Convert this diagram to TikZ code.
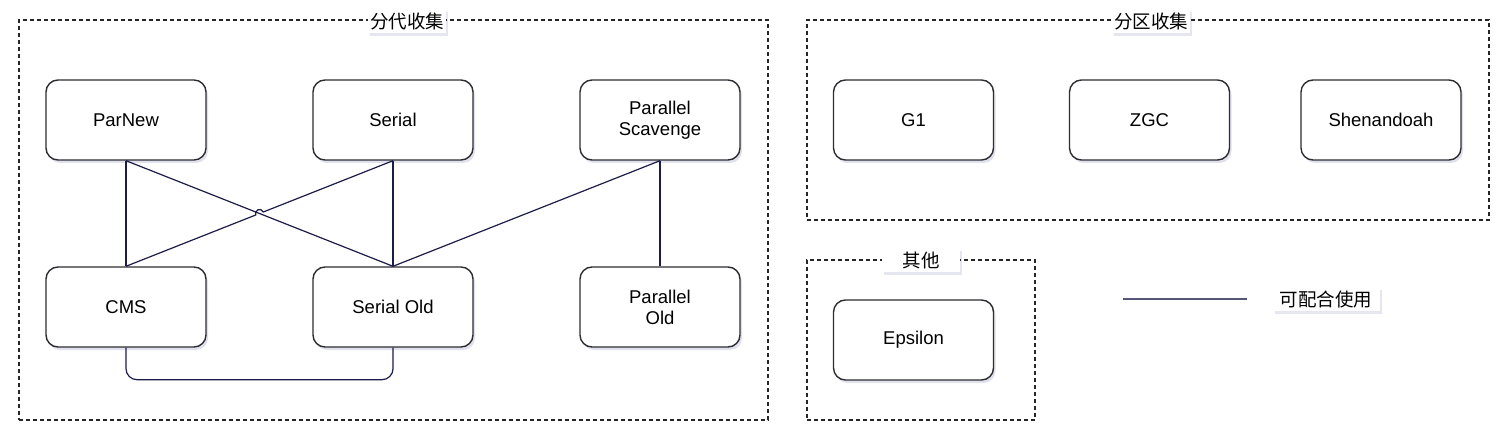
\documentclass[tikz,border=0pt]{standalone}
\usepackage{fontspec}
\setmainfont{Liberation Sans}
\newfontfamily\cjk{Noto Sans CJK SC}
\usetikzlibrary{calc,shadows}
\definecolor{connc}{RGB}{28,28,72}
\definecolor{boxc}{RGB}{45,45,50}
\tikzset{
  gcbox/.style={draw=boxc, line width=1.4pt, fill=white, rounded corners=12pt,
    minimum width=160pt, minimum height=80pt, align=center,
    font=\fontsize{18.5pt}{21pt}\selectfont,
    drop shadow={shadow xshift=2pt, shadow yshift=-3pt, opacity=0.18, fill=blue!30!gray}},
  group/.style={draw=black!85, line width=1.1pt, dash pattern=on 4pt off 3pt, inner sep=0pt},
  grouplabel/.style={fill=white, inner sep=0pt, minimum width=78pt, minimum height=24pt,
    font=\cjk\fontsize{18.5pt}{21pt}\selectfont,
    drop shadow={shadow xshift=2pt, shadow yshift=-3pt, opacity=0.15, fill=blue!30!gray}},
  conn/.style={draw=connc, line width=1.2pt}
}
\begin{document}
\begin{tikzpicture}[x=1pt,y=-1pt]
\useasboundingbox[fill=white] (0,0) rectangle (1510,438);

% group boxes
\node[group, minimum width=749pt, minimum height=400pt] (gen) at (393.5,220) {};
\node[group, minimum width=682pt, minimum height=200pt] (reg) at (1148,120) {};
\node[group, minimum width=228pt, minimum height=160pt] (oth) at (921,340) {};

\node[grouplabel] (genlbl) at (407,21) {分代收集};
\node[grouplabel] (reglbl) at (1151,21) {分区收集};
\node[grouplabel] (othlbl) at (921,260.5) {其他};

% collectors
\node[gcbox] (parnew) at (126,120) {ParNew};
\node[gcbox] (serial) at (393,120) {Serial};
\node[gcbox] (pscav) at (660,120) {Parallel\\Scavenge};
\node[gcbox] (cms) at (126,307) {CMS};
\node[gcbox] (serialold) at (393,307) {Serial Old};
\node[gcbox] (parold) at (660,307) {Parallel\\Old};

\node[gcbox] (g1) at (913.5,120) {G1};
\node[gcbox] (zgc) at (1149.5,120) {ZGC};
\node[gcbox] (shen) at (1381,120) {Shenandoah};

\node[gcbox] (eps) at (913.5,340) {Epsilon};

% connectors
\draw[conn] (parnew.south) -- (cms.north);
\draw[conn] (parnew.south) -- (serialold.north);
\coordinate (m) at ($(serial.south)!0.5!(cms.north)$);
\coordinate (h1) at ($(m)!4pt!(serial.south)$);
\coordinate (h2) at ($(m)!4pt!(cms.north)$);
\draw[conn] (serial.south) -- (h1)
  .. controls ($(h1)!5.3pt!-90:(h2)$) and ($(h2)!5.3pt!90:(h1)$) .. (h2)
  -- (cms.north);
\draw[conn] (serial.south) -- (serialold.north);
\draw[conn] (pscav.south) -- (serialold.north);
\draw[conn] (pscav.south) -- (parold.north);
\draw[conn, rounded corners=11pt] (cms.south) -- ++(0,32) -| (serialold.south);

% legend
\coordinate (lg1) at (1123,299);
\coordinate (lg2) at (1247,299);
\draw[conn, draw=connc!75!white] (lg1) -- (lg2);
\node[grouplabel, minimum width=107pt] (lgtext) at (1326,299) {可配合使用};
\end{tikzpicture}
\end{document}
